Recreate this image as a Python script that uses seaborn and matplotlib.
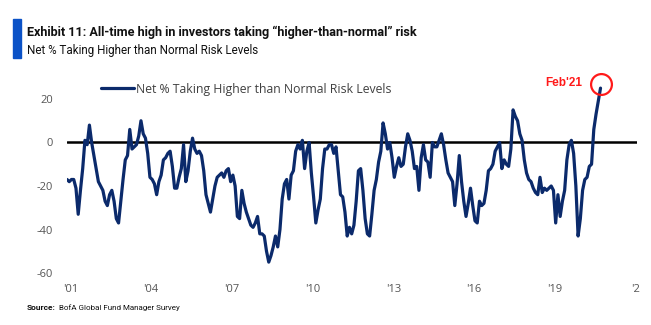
import numpy as np
import pandas as pd
import matplotlib
matplotlib.use("Agg")
import matplotlib.pyplot as plt
from matplotlib.patches import Rectangle
import seaborn as sns

# ---- data (monthly, Apr 2001 .. Feb 2021) ----
start_month = "2001-04-01"
net_pct = [
    -17, -18, -17, -17, -21, -33, -22, -12, 1, -1, 8, 0,
    -6, -12, -18, -20, -22, -27, -29, -24, -22, -27, -35, -37,
    -27, -17, -8, -6, 6, -3, -2, -1, 3, 10, 4, 2,
    -5, -16, -17, -19, -24, -18, -15, -8, -7, -5, -4, -11,
    -21, -21, -16, -12, -1, -18, -13, -4, 2, -3, -5, -4,
    -6, -13, -24, -28, -32, -26, -20, -16, -15, -14, -16, -13,
    -12, -18, -15, -20, -34, -35, -22, -28, -32, -35, -38, -39,
    -37, -34, -42, -42, -43, -50, -55, -52, -48, -43, -48, -40,
    -26, -19, -17, -26, -15, -13, -4, -1, -3, 1, -12, -4,
    0, -14, -25, -37, -31, -26, -12, -3, -3, -1, -1, -5,
    -2, -13, -24, -25, -32, -43, -39, -42, -38, -27, -13, -12,
    -22, -35, -42, -43, -33, -22, -17, -9, -4, 9, 4, -3,
    0, -7, -16, -11, -7, -11, -10, -2, 4, 1, -4, -12,
    -11, -22, -7, -1, -8, -9, -16, 0, -2, -2, 1, 4,
    -1, -8, -14, -16, -18, -29, -19, -6, -18, -27, -34, -28,
    -21, -29, -36, -37, -27, -29, -28, -22, -13, -12, -10, -4,
    -2, 0, -12, -8, -10, -11, -3, 15, 12, 10, 4, 1,
    -8, -14, -17, -18, -21, -23, -24, -16, -23, -21, -22, -21,
    -20, -22, -37, -24, -34, -27, -22, -8, -1, 1, -5, -20,
    -43, -35, -22, -17, -16, -11, -10, 6, 13, 19, 25,
]
tick_years = [2001, 2004, 2007, 2010, 2013, 2016, 2019, 2022]
tick_labels = ["'01", "'04", "'07", "'10", "'13", "'16", "'19", "'2"]
y_ticks = [-60, -40, -20, 0, 20]
series_name = "Net % Taking Higher than Normal Risk Levels"

dates = pd.date_range(start_month, periods=len(net_pct), freq="MS")
df = pd.DataFrame({
    "t": dates.year + (dates.month - 1) / 12.0,
    "value": net_pct,
    "series": series_name,
})

sns.set_style("white")
plt.rcParams["font.family"] = ["Open Sans", "DejaVu Sans"]

W, H = 651, 325
fig = plt.figure(figsize=(W / 100, H / 100), dpi=100)

ax_left, ax_right = 67 / W, 637 / W
ax_bottom = (H - 273) / H
ax_top = (H - 77.25) / H
ax = fig.add_axes([ax_left, ax_bottom, ax_right - ax_left, ax_top - ax_bottom])

navy = "#0b2a6b"
ax.axhline(0, color="black", lw=1.8, zorder=1)
sns.lineplot(data=df, x="t", y="value", hue="series", palette=[navy],
             lw=2.3, ax=ax, zorder=3, legend=True)

ax.set_xlim(2001.25, 2001.25 + 570 / 26.9)
ax.set_ylim(-60, 30)
ax.set_xticks([y + 0.38 for y in tick_years])
ax.set_xticklabels(tick_labels)
ax.set_yticks(y_ticks)
ax.set_yticklabels([str(v) for v in y_ticks])
ax.tick_params(axis="both", length=0, labelsize=8, labelcolor="#555555")
ax.tick_params(axis="y", pad=10)
ax.tick_params(axis="x", pad=8)
ax.set_xlabel("")
ax.set_ylabel("")
for s in ax.spines.values():
    s.set_visible(False)

# legend
ax.get_legend().remove()
h, l = ax.get_legend_handles_labels()
leg = fig.legend(h, l, loc="center left",
                 bbox_to_anchor=(101 / W, 1 - 89 / H),
                 frameon=False, fontsize=8.8, handlelength=2.7,
                 handletextpad=0.2, borderpad=0, borderaxespad=0)
for t in leg.get_texts():
    t.set_color("#404040")
for ln in leg.get_lines():
    ln.set_linewidth(2.3)

# Feb'21 annotation
last_t = df["t"].iloc[-1]
ax.plot([last_t + 0.02], [26.8], marker="o", ms=15, mfc="none",
        mec="#ff1a1a", mew=1.6, clip_on=False, zorder=5)
ax.text(2020.40, 27.2, "Feb'21", color="#ff1a1a", fontsize=8.5,
        fontweight="bold", ha="right", va="center",
        family=["Liberation Sans", "DejaVu Sans"], clip_on=False)

# header
fig.patches.append(Rectangle((13 / W, 1 - 58 / H), 8 / W, 39 / H,
                             transform=fig.transFigure, color="#0b52c7"))
hdr = dict(family=["Roboto", "DejaVu Sans"])
title = fig.text(27 / W, 1 - 32 / H,
                 "Exhibit 11: All-time high in investors taking \u201chigher-than-normal\u201d risk",
                 fontsize=10.5, fontweight="bold", ha="left", va="center",
                 color="#111111", **hdr)
sub = fig.text(27 / W, 1 - 50.5 / H, series_name,
               fontsize=10, ha="left", va="center", color="#111111", **hdr)

# source
src1 = fig.text(27 / W, 1 - 307.5 / H, "Source:", fontsize=7, fontweight="bold",
                ha="left", va="center", color="#111111", **hdr)
src2 = fig.text(59 / W, 1 - 307.5 / H, "BofA Global Fund Manager Survey",
                fontsize=7, ha="left", va="center", color="#111111", **hdr)

# fit text widths close to the reference layout
fig.canvas.draw()
r = fig.canvas.get_renderer()
def fit(txt, target_px):
    w = txt.get_window_extent(r).width
    txt.set_fontsize(txt.get_fontsize() * target_px / w)
fit(title, 395)
fit(sub, 232)
fit(src1, 29)
fit(src2, 122)

fig.savefig("out.png", dpi=100)
